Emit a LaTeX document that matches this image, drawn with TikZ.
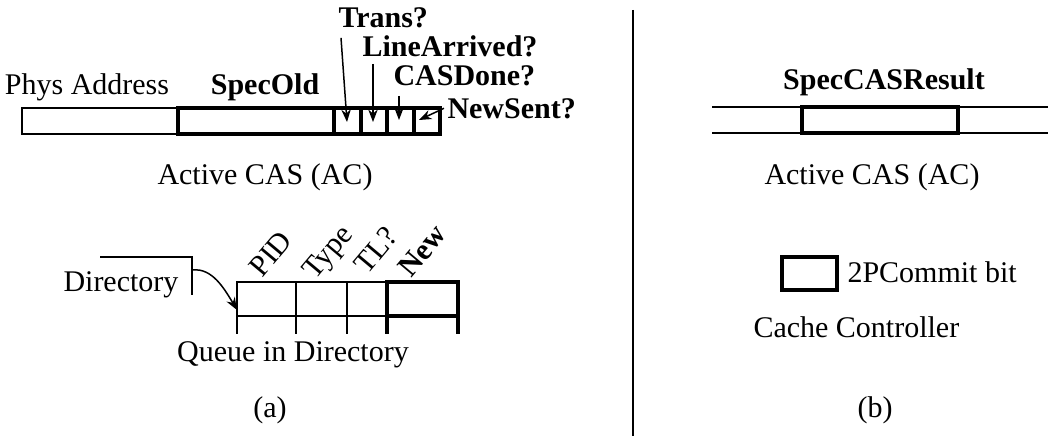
\documentclass[tikz,border=0pt]{standalone}
\usepackage{fontspec}
\setmainfont{Liberation Serif}
\usetikzlibrary{arrows.meta}

\tikzset{
  thinline/.style={line width=0.6pt},
  thickline/.style={line width=1.6pt},
  lbl/.style={inner sep=0pt, font=\fontsize{12}{14}\selectfont},
  blbl/.style={inner sep=0pt, font=\fontsize{12}{14}\selectfont\bfseries},
}

\begin{document}
\begin{tikzpicture}[x=0.4pt, y=-0.4pt, >={Stealth[length=5pt,width=3.8pt]}]
  \useasboundingbox (0,0) rectangle (1062,438);
  % (a): active CAS entry
  \draw[thinline] (22,108) rectangle (178,134);
  \draw[thickline] (178,108) rectangle (440,134);
  \foreach \x in {334,361,387,414}
    \draw[thickline] (\x,108) -- (\x,134);
  \node[lbl, anchor=base] (phys) at (87,95) {Phys Address};
  \node[blbl, anchor=base] (specold) at (265,95) {SpecOld};
  \node[blbl, anchor=base west] (trans) at (338,28) {Trans?};
  \node[blbl, anchor=base west] (linearr) at (362,57) {LineArrived?};
  \node[blbl, anchor=base west] (casdone) at (393,86) {CASDone?};
  \node[blbl, anchor=base west] (newsent) at (447,119) {NewSent?};
  \draw[thinline, ->] (trans.south west) ++(3,9) -- (347,122);
  \draw[thinline, ->] (linearr.south west) ++(11,6) -- (373,122);
  \draw[thinline, ->] (casdone.south west) ++(6,9) -- (399,120);
  \draw[thinline, ->] (newsent.west) ++(-3,-1) -- (419,120);
  \node[lbl, anchor=base] (acleft) at (265,185) {Active CAS (AC)};
  % queue in the directory
  \node[lbl, anchor=base west] (dir) at (63,292) {Directory};
  \draw[thinline] (100,257) -- (192,257) -- (192,295);
  \draw[thinline, ->] (193,270) .. controls (212,268) and (224,288) .. (237,310);
  \draw[thinline] (237,334) -- (237,282) -- (387,282);
  \draw[thinline] (237,316) -- (387,316);
  \foreach \x in {296,347}
    \draw[thinline] (\x,282) -- (\x,334);
  \draw[thickline] (387,334) -- (387,282) -- (458,282) -- (458,334);
  \draw[thickline] (387,316) -- (458,316);
  \node[lbl, rotate=50, anchor=base west] (pid) at (262,279) {PID};
  \node[lbl, rotate=50, anchor=base west] (type) at (315,281) {Type};
  \node[lbl, rotate=50, anchor=base west] (tl) at (367,276) {TL?};
  \node[blbl, rotate=50, anchor=base west] (new) at (411,279) {New};
  \node[lbl, anchor=base] (queue) at (293,362) {Queue in Directory};
  \node[lbl, anchor=base] (capa) at (270,418) {(a)};
  % divider
  \draw[thinline] (633,10) -- (633,436);
  % (b): cache controller
  \draw[thinline] (712,107) -- (1048,107);
  \draw[thinline] (712,133) -- (1048,133);
  \draw[thickline, fill=white] (802,107) rectangle (958,133);
  \node[blbl, anchor=base] (result) at (884,90) {SpecCASResult};
  \node[lbl, anchor=base] (acright) at (872,185) {Active CAS (AC)};
  \draw[thickline] (782,257) rectangle (837,290);
  \node[lbl, anchor=base west] (commit) at (847,283) {2PCommit bit};
  \node[lbl, anchor=base west] (cache) at (753,338) {Cache Controller};
  \node[lbl, anchor=base] (capb) at (875,418) {(b)};
\end{tikzpicture}
\end{document}
